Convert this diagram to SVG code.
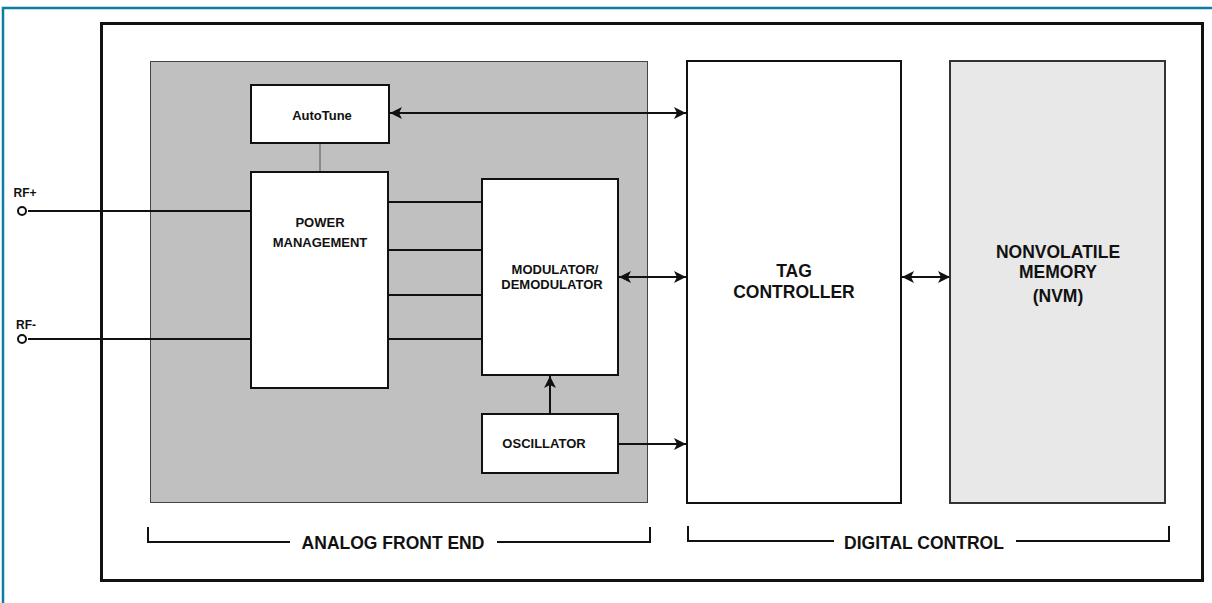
<svg xmlns="http://www.w3.org/2000/svg" width="1212" height="603" viewBox="0 0 1212 603">
<style>
  .t{font-family:"Liberation Sans",Arial,sans-serif;font-weight:bold;fill:#111;text-anchor:middle}
  .s{font-size:13px}
  .r{font-size:12px}
  .m{font-size:17.5px}
  .box{fill:#fff;stroke:#111;stroke-width:2}
  .w{stroke:#111;stroke-width:2;fill:none}
</style>
<defs>
  <marker id="ah" viewBox="0 0 12 12" refX="12" refY="6" markerWidth="13" markerHeight="12" markerUnits="userSpaceOnUse" orient="auto-start-reverse">
    <path d="M0,0 L12,6 L0,12 L3,6 Z" fill="#111"/>
  </marker>
</defs>
<rect width="1212" height="603" fill="#fff"/>
<path d="M3,603 V8 H1212" fill="none" stroke="#0a7ea4" stroke-width="2.5"/>
<rect x="101.5" y="23.5" width="1101" height="557" fill="none" stroke="#111" stroke-width="3"/>
<g id="afe">
  <rect x="150.5" y="61.5" width="497" height="441" fill="#c0c0c0" stroke="#444" stroke-width="1"/>
</g>
<g id="connectors">
  <line x1="320" y1="143" x2="320" y2="172" stroke="#555" stroke-width="1"/>
  <line class="w" x1="28" y1="211" x2="251" y2="211"/>
  <line class="w" x1="28" y1="339" x2="251" y2="339"/>
  <line class="w" x1="388" y1="202" x2="482" y2="202"/>
  <line class="w" x1="388" y1="250" x2="482" y2="250"/>
  <line class="w" x1="388" y1="295" x2="485" y2="295"/>
  <line class="w" x1="388" y1="339" x2="485" y2="339"/>
  <line class="w" x1="390" y1="113" x2="686" y2="113" marker-start="url(#ah)" marker-end="url(#ah)"/>
  <line class="w" x1="619" y1="277" x2="686" y2="277" marker-start="url(#ah)" marker-end="url(#ah)"/>
  <line class="w" x1="902" y1="277" x2="950" y2="277" marker-start="url(#ah)" marker-end="url(#ah)"/>
  <line class="w" x1="550" y1="414" x2="550" y2="376" marker-end="url(#ah)"/>
  <line class="w" x1="619" y1="444" x2="686" y2="444" marker-end="url(#ah)"/>
  <path class="w" d="M148,527 V542 H290 M497,542 H650 V527"/>
  <path class="w" d="M688,526 V541 H834 M1016,541 H1169 V526"/>
</g>
<g id="rfp">
  <circle cx="22" cy="211" r="4" fill="#fff" stroke="#111" stroke-width="2"/>
  <text class="t r" x="25" y="197">RF+</text>
</g>
<g id="rfm">
  <circle cx="22" cy="339" r="4" fill="#fff" stroke="#111" stroke-width="2"/>
  <text class="t r" x="26" y="329">RF-</text>
</g>
<g id="autotune">
  <rect class="box" x="251" y="85" width="138" height="58"/>
  <text class="t s" x="322" y="120">AutoTune</text>
</g>
<g id="power">
  <rect class="box" x="251" y="172" width="137" height="216"/>
  <text class="t s" x="320" y="227">POWER</text>
  <text class="t s" x="320" y="247">MANAGEMENT</text>
</g>
<g id="modem">
  <rect class="box" x="482" y="179" width="136" height="196"/>
  <text class="t s" x="555" y="274">MODULATOR/</text>
  <text class="t s" x="552" y="289">DEMODULATOR</text>
</g>
<g id="osc">
  <rect class="box" x="482" y="414" width="136" height="59"/>
  <text class="t s" x="544" y="448">OSCILLATOR</text>
</g>
<g id="tag">
  <rect class="box" x="687" y="61" width="214" height="442"/>
  <text class="t m" x="794" y="277">TAG</text>
  <text class="t m" x="794" y="298">CONTROLLER</text>
</g>
<g id="nvm">
  <rect x="950" y="61" width="215" height="442" fill="#e8e8e8" stroke="#333" stroke-width="2"/>
  <text class="t m" x="1058" y="258">NONVOLATILE</text>
  <text class="t m" x="1058" y="278">MEMORY</text>
  <text class="t m" x="1058" y="302">(NVM)</text>
</g>
<g id="labels">
  <text class="t m" x="393" y="549">ANALOG FRONT END</text>
  <text class="t m" x="924" y="549">DIGITAL CONTROL</text>
</g>
</svg>
